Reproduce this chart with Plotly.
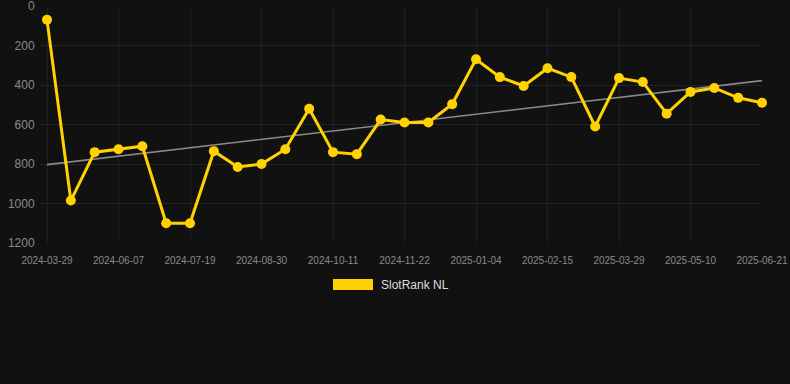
import plotly.graph_objects as go

dates = [
    "2024-03-29", "2024-04-26", "2024-05-24", "2024-06-07", "2024-06-21",
    "2024-07-05", "2024-07-19", "2024-08-02", "2024-08-16", "2024-08-30",
    "2024-09-13", "2024-09-27", "2024-10-11", "2024-10-25", "2024-11-08",
    "2024-11-22", "2024-12-07", "2024-12-21", "2025-01-04", "2025-01-18",
    "2025-02-01", "2025-02-15", "2025-03-01", "2025-03-15", "2025-03-29",
    "2025-04-12", "2025-04-26", "2025-05-10", "2025-05-24", "2025-06-07",
    "2025-06-21",
]
rank = [70, 985, 740, 725, 710, 1100, 1100, 735, 815, 800,
        725, 520, 740, 750, 575, 590, 590, 497, 270, 360,
        405, 315, 360, 610, 365, 385, 545, 435, 415, 465, 490]
trend_x = [dates[0], dates[-1]]
trend_y = [803, 378]
tick_labels = dates[::3]
y_ticks = [0, 200, 400, 600, 800, 1000, 1200]
series_name = "SlotRank NL"

gold = "#FFD200"
fig = go.Figure()
fig.add_trace(go.Scatter(
    x=trend_x, y=trend_y, mode="lines",
    line=dict(color="#8a8a8a", width=1.6), showlegend=False, hoverinfo="skip",
))
fig.add_trace(go.Scatter(
    x=dates, y=rank, mode="lines+markers", name=series_name,
    line=dict(color=gold, width=3), marker=dict(color=gold, size=10),
    cliponaxis=False, showlegend=False,
))

L, R, T, B = 40, 28, 6, 141
W, H = 790, 384
pw, ph = W - L - R, H - T - B

def px(x):
    return (x - L) / pw

def py(y):
    return (H - B - y) / ph

fig.add_shape(type="rect", xref="paper", yref="paper",
              x0=px(333), x1=px(373), y0=py(279), y1=py(290),
              fillcolor=gold, line=dict(width=0))
fig.add_annotation(xref="paper", yref="paper", x=px(379), y=py(284.5),
                   text=series_name, showarrow=False, xanchor="left", yanchor="middle",
                   font=dict(size=12, color="#dddddd"))

fig.update_layout(
    width=W, height=H,
    margin=dict(l=L, r=R, t=T, b=B),
    paper_bgcolor="#111111", plot_bgcolor="#111111",
    font=dict(family="Liberation Sans, Arial, sans-serif", color="#888888"),
    showlegend=False,
)
fig.update_xaxes(
    type="category", categoryorder="array", categoryarray=dates,
    range=[-0.294, 30], tickvals=tick_labels, ticktext=tick_labels,
    tickfont=dict(size=10, color="#8a8a8a"), showgrid=True, gridcolor="#1f1f1f",
    zeroline=False, showline=False, ticks="outside", ticklen=8,
    tickcolor="rgba(0,0,0,0)", tickangle=0, ticklabeloverflow="allow",
    automargin=False,
)
fig.update_yaxes(
    range=[1200, 0], tickvals=y_ticks, tickfont=dict(size=12, color="#8a8a8a"),
    showgrid=True, gridcolor="#232323", zeroline=False, showline=False,
    ticks="outside", ticklen=2, tickcolor="rgba(0,0,0,0)", ticklabeloverflow="allow",
    automargin=False,
)
fig.write_html("out.html")
